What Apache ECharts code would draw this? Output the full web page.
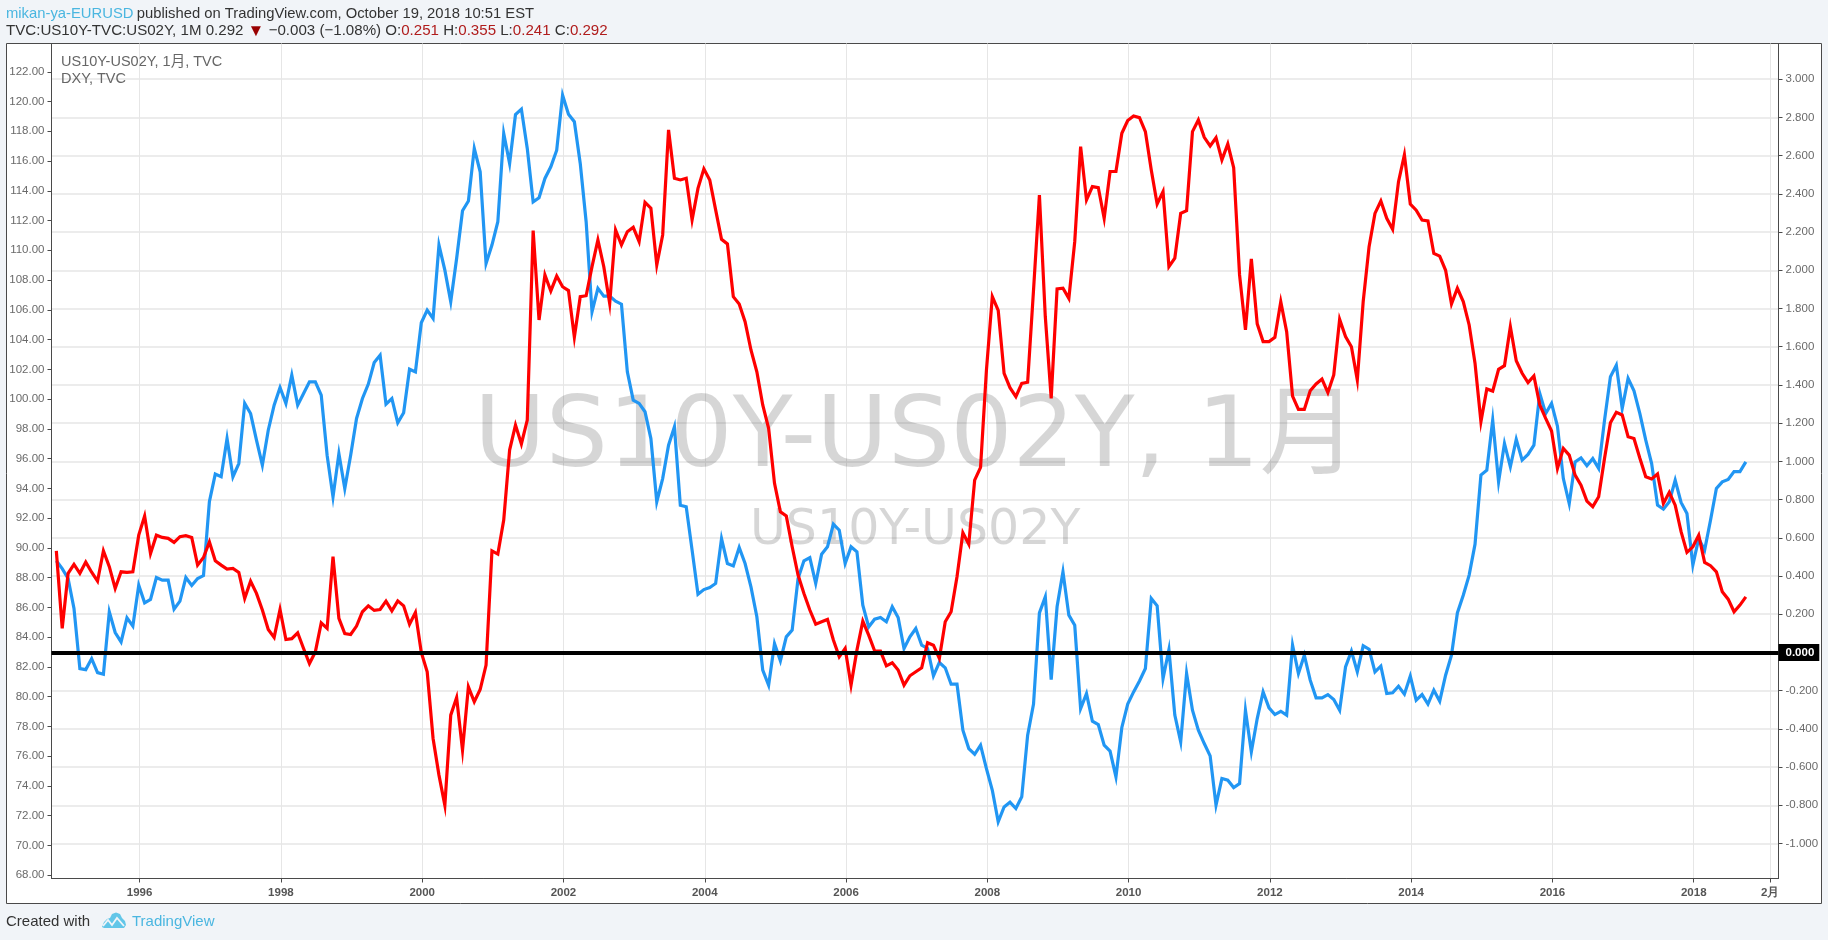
<!DOCTYPE html>
<html><head><meta charset="utf-8">
<style>html,body{margin:0;padding:0;background:#f1f4f8}#c{width:1828px;height:940px}</style>
<script src="https://cdn.jsdelivr.net/npm/echarts@6/dist/echarts.min.js"></script>
</head><body><div id="c"></div>
<script>
// Monthly bars, index 0 = 1994-11, index 287 = 2018-10
const dxy = [89.13,88.61,87.94,85.93,81.89,81.82,82.56,81.62,81.51,85.7,84.31,83.68,85.3,84.74,87.49,86.31,86.53,88.01,87.83,87.83,85.88,86.42,88.01,87.47,87.94,88.14,93.1,94.96,94.78,97.35,94.78,95.67,99.71,99.03,97.24,95.56,97.91,99.59,100.78,99.71,101.61,99.59,100.38,101.16,101.16,100.27,96.23,93.43,96.34,93.99,96.23,98.7,100.04,101.01,102.46,102.95,99.66,100.04,98.41,99.08,102.01,101.83,105.13,105.98,105.42,110.35,108.67,106.54,109.45,112.66,113.31,116.85,115.28,109.12,110.35,111.92,117.85,115.84,119.13,119.49,116.85,113.26,113.53,114.83,115.61,116.73,120.43,119.15,118.64,115.84,111.92,105.87,107.44,106.92,106.92,106.58,106.38,101.83,99.93,99.71,99.15,97.35,93.1,94.66,96.9,98.14,92.87,92.76,89.85,86.89,87.2,87.34,87.61,90.63,88.95,88.79,90.03,88.95,87.38,85.37,81.78,80.77,83.57,82.41,84.02,84.47,87.94,89.13,89.35,87.61,89.58,90.07,91.59,91.19,88.95,90.07,89.73,86.15,84.69,85.21,85.32,85.03,86.04,85.32,83.24,84.02,84.58,83.46,83.24,81.4,82.3,81.94,80.84,80.84,77.75,76.51,76.13,76.74,75.17,73.71,71.59,72.59,72.91,72.48,73.27,77.41,79.5,85.63,86.71,81.15,86.04,88.39,85.48,84.8,79.2,80.21,78.35,78.13,76.74,76.34,74.61,77.93,79.5,80.32,81.06,81.89,86.6,86.11,81.22,83.17,78.76,76.96,81.56,79.09,77.75,76.85,76.02,72.71,74.5,74.39,73.89,74.16,79.09,76.29,78.53,80.32,79.25,78.8,79.02,78.76,83.46,81.56,82.79,81.11,79.92,79.92,80.14,79.81,79.09,82,83.06,81.67,83.42,83.19,81.67,82.05,80.21,80.26,80.7,80.17,81.38,79.76,80.14,79.5,80.44,79.7,81.44,82.79,85.63,86.82,88.17,90.25,94.89,95.22,98.59,94.44,97.02,95.45,97.29,95.9,96.28,96.9,100.38,99.03,99.71,98.18,94.66,92.98,95.78,96.05,95.52,96,95.34,98.59,101.5,102.28,99.37,101.39,100.56,99.03,97.24,95.67,92.87,92.6,93.1,94.55,93.05,92.31,88.84,90.63,89.85,91.86,93.99,94.44,94.6,95.13,95.13,95.78];
const spread = [.532,.126,.414,.461,.414,.473,.42,.373,.532,.449,.335,.422,.419,.422,.614,.714,.518,.614,.602,.597,.576,.606,.611,.602,.457,.497,.579,.48,.457,.436,.44,.419,.283,.373,.309,.222,.12,.079,.225,.068,.072,.103,.021,-.058,.003,.155,.126,.501,.178,.099,.094,.138,.213,.244,.22,.225,.269,.218,.27,.244,.148,.209,0,-.101,-.45,-.642,-.8,-.328,-.236,-.511,-.18,-.258,-.194,-.066,.532,.515,.693,1.059,1.19,1.091,1.216,2.208,1.74,1.976,1.892,1.97,1.914,1.894,1.65,1.862,1.867,2.019,2.159,2.019,1.827,2.211,2.133,2.202,2.225,2.15,2.356,2.325,2.028,2.185,2.735,2.482,2.473,2.482,2.264,2.429,2.531,2.473,2.316,2.162,2.138,1.862,1.824,1.731,1.583,1.469,1.295,1.173,.885,.736,.714,.553,.405,.309,.222,.148,.161,.173,.065,-.023,.021,-.171,.012,.164,.091,.009,.007,-.07,-.054,-.092,-.171,-.122,-.101,-.08,.051,.038,-.031,.161,.213,.396,.627,.567,.902,.969,1.478,1.862,1.79,1.461,1.386,1.339,1.408,1.414,1.897,2.394,1.757,1.33,1.902,1.906,1.853,2.15,2.647,2.368,2.438,2.433,2.272,2.517,2.517,2.717,2.784,2.808,2.799,2.726,2.525,2.347,2.412,2.019,2.063,2.298,2.312,2.726,2.787,2.696,2.651,2.694,2.578,2.661,2.537,1.976,1.688,2.06,1.72,1.627,1.627,1.649,1.836,1.679,1.342,1.272,1.272,1.37,1.405,1.431,1.36,1.452,1.743,1.653,1.6,1.426,1.836,2.124,2.298,2.363,2.272,2.215,2.464,2.604,2.347,2.315,2.263,2.258,2.088,2.074,2,1.824,1.906,1.836,1.714,1.513,1.208,1.379,1.368,1.482,1.501,1.705,1.527,1.461,1.412,1.447,1.295,1.225,1.159,.963,1.068,1.033,.928,.876,.792,.763,.815,1.016,1.202,1.257,1.243,1.129,1.12,1.016,.92,.908,.934,.78,.838,.771,.632,.524,.553,.614,.471,.454,.422,.318,.279,.213,.248,.291];
const xTickIndex = [14,38,62,86,110,134,158,182,206,230,254,278,291];
const xTickLabels = ['1996','1998','2000','2002','2004','2006','2008','2010','2012','2014','2016','2018','2月'];
const leftTicks = [68,70,72,74,76,78,80,82,84,86,88,90,92,94,96,98,100,102,104,106,108,110,112,114,116,118,120,122];
const rightTicks = [-1,-.8,-.6,-.4,-.2,0,.2,.4,.6,.8,1,1.2,1.4,1.6,1.8,2,2.2,2.4,2.6,2.8,3];

const AX='#4a4a4a', GRID='#e6e6e6', LBL='#6a6a6a', F='"Liberation Sans",Arial,sans-serif';
const BAR_SHIFT=-0.15; // points sit just left of their month's tick
const chart = echarts.init(document.getElementById('c'));
chart.setOption({
  animation:false,
  backgroundColor:'#f1f4f8',
  grid:{left:51.5,right:49.5,top:43.5,bottom:61.5,containLabel:false},
  xAxis:{type:'value',min:-0.97,max:292.4,
    axisLine:{onZero:false,lineStyle:{color:AX,width:1}},
    axisTick:{customValues:xTickIndex,length:4,lineStyle:{color:AX}},
    splitLine:{show:true,customValues:xTickIndex,lineStyle:{color:GRID,width:1}},
    axisLabel:{customValues:xTickIndex,margin:8,fontSize:11.5,fontFamily:F,color:'#555',fontWeight:'bold',
      formatter:v=>xTickLabels[xTickIndex.indexOf(v)]}},
  yAxis:[
   {type:'value',position:'left',min:67.78,max:123.9,
    axisLine:{show:true,onZero:false,lineStyle:{color:AX,width:1}},
    axisTick:{show:true,customValues:leftTicks,length:4,lineStyle:{color:AX}},
    splitLine:{show:false},
    axisLabel:{customValues:leftTicks,margin:7,fontSize:11.5,fontFamily:F,color:LBL,formatter:v=>v.toFixed(2)}},
   {type:'value',position:'right',min:-1.183,max:3.187,
    axisLine:{show:true,onZero:false,lineStyle:{color:AX,width:1}},
    axisTick:{show:true,customValues:rightTicks,length:4,lineStyle:{color:AX}},
    splitLine:{show:true,customValues:rightTicks,lineStyle:{color:GRID,width:1.5}},
    axisLabel:{customValues:rightTicks,margin:7,fontSize:11.5,fontFamily:F,color:LBL,
      formatter:v=>v===0?'':v.toFixed(3)}}
  ],
  series:[
   {name:'DXY',type:'line',yAxisIndex:0,symbol:'none',z:2,lineStyle:{color:'#2196f3',width:3.2,join:'miter'},
    data:dxy.map((v,i)=>[i+BAR_SHIFT,v])},
   {name:'US10Y-US02Y',type:'line',yAxisIndex:1,symbol:'none',z:3,lineStyle:{color:'#ff0000',width:3.2,join:'miter'},
    data:spread.map((v,i)=>[i+BAR_SHIFT,v]),
    markLine:{silent:true,symbol:'none',animation:false,
      label:{show:true,position:'end',distance:0,formatter:'0.000',backgroundColor:'#000',color:'#fff',fontWeight:'bold',fontSize:11.5,fontFamily:F,padding:[3,5,3,7],lineHeight:11},
      lineStyle:{color:'#000',width:4,type:'solid'},data:[{yAxis:0}]}}
  ],
  graphic:{elements:[
    {type:'rect',z:-10,shape:{x:6.5,y:43.5,width:1815,height:860},style:{fill:'#fff',stroke:AX,lineWidth:1}},
    {type:'rect',z:20,shape:{x:7,y:879.5,width:44,height:23},style:{fill:'#fff'}},
    {type:'text',z:1,x:474,y:441,style:{text:'US10Y-US02Y, 1月',font:'98px "DejaVu Sans","Noto Sans CJK JP",sans-serif',fill:'rgba(0,0,0,0.16)',textVerticalAlign:'middle'}},
    {type:'text',z:1,x:750,y:531,style:{text:'US10Y-US02Y',font:'49px "DejaVu Sans",sans-serif',fill:'rgba(0,0,0,0.16)',textVerticalAlign:'middle'}},
    {type:'text',z:1,x:61,y:62,style:{text:'US10Y-US02Y, 1月, TVC',font:'14.5px '+F+',"Noto Sans CJK JP"',fill:'#666',textVerticalAlign:'middle'}},
    {type:'text',z:1,x:61,y:79,style:{text:'DXY, TVC',font:'14.5px '+F,fill:'#666',textVerticalAlign:'middle'}},
    {type:'text',x:6,y:13.5,style:{text:'{a|mikan-ya-EURUSD} {b|published on TradingView.com, October 19, 2018 10:51 EST}',
      textVerticalAlign:'middle',rich:{a:{font:'14.8px '+F,fill:'#4ab6e0'},b:{font:'14.8px '+F,fill:'#333'}}}},
    {type:'text',x:6,y:31,style:{text:'{b|TVC:US10Y-TVC:US02Y, 1M 0.292 }{t|▼}{b| −0.003 (−1.08%) O:}{r|0.251}{b| H:}{r|0.355}{b| L:}{r|0.241}{b| C:}{r|0.292}',
      textVerticalAlign:'middle',rich:{b:{font:'15.1px '+F,fill:'#333'},r:{font:'15.1px '+F,fill:'#b01c1c'},t:{font:'17px '+F,fill:'#990000'}}}},
    {type:'text',x:6,y:922,style:{text:'Created with',font:'15px '+F,fill:'#333',textVerticalAlign:'middle'}},
    {type:'text',x:132,y:922,style:{text:'TradingView',font:'15px '+F,fill:'#4ab6e0',textVerticalAlign:'middle'}},
    {type:'polygon',shape:{points:[[102,927],[104,922],[107,919],[110,918],[112,914],[116,912.5],[120,914],[122,918],[125,921],[126,925],[124,928],[104,928]]},style:{fill:'#62c6e8'}},
    {type:'polyline',z:2,shape:{points:[[103,926],[108,920],[112,925],[117,918],[124,926]]},style:{stroke:'#f1f4f8',lineWidth:1.8,fill:'none'}}
  ]}
});
</script></body></html>
